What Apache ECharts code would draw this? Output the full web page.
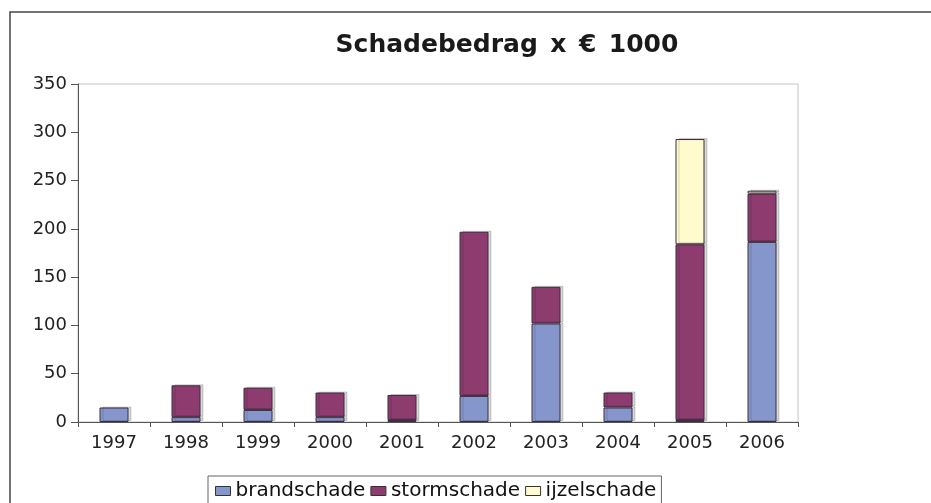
<!DOCTYPE html>
<html>
<head>
<meta charset="utf-8">
<script src="https://cdn.jsdelivr.net/npm/echarts@6/dist/echarts.min.js"></script>
<style>
html,body{margin:0;padding:0;background:#fff;}
#chart{width:931px;height:503px;}
</style>
</head>
<body>
<div id="chart"></div>
<script>
const years = ['1997','1998','1999','2000','2001','2002','2003','2004','2005','2006'];
const brandschade = [15, 5, 12.5, 5, 2, 27, 102, 15, 2, 186.5];
const stormschade = [0, 33, 23, 25.5, 26, 170, 38, 15.5, 182, 50];
const ijzelschade = [0, 0, 0, 0, 0, 0, 0, 0, 109, 3];
const yTicks = [0, 50, 100, 150, 200, 250, 300, 350];

const chart = echarts.init(document.getElementById('chart'));
const font = '"DejaVu Sans", Verdana, sans-serif';
function barStyle(color){
  return {
    color: color,
    borderColor: '#3c2c3c',
    borderWidth: 1,
    shadowColor: 'rgba(0,0,0,0.16)',
    shadowOffsetX: 3,
    shadowOffsetY: -1,
    shadowBlur: 0
  };
}
const nz = arr => arr.map(v => v === 0 ? '-' : v);
chart.setOption({
  animation: false,
  backgroundColor: '#fff',
  graphic: [{
    type: 'rect',
    shape: {x: 10, y: 12, width: 1000, height: 600},
    style: {fill: 'none', stroke: '#444', lineWidth: 1.5},
    z: -1
  }],
  title: {
    text: 'Schadebedrag\u2002x\u2002\u20ac\u20021000',
    left: 502, top: 28, textAlign: 'center',
    textStyle: {fontFamily: font, fontSize: 25, fontWeight: 'bold', color: '#1a1a1a'}
  },
  grid: {left: 78, right: 133, top: 84, bottom: 81, show: true, borderColor: '#c4c4c4', borderWidth: 1},
  legend: {
    top: 476, left: 208,
    icon: 'rect',
    itemWidth: 15, itemHeight: 9, itemGap: 5,
    padding: [3, 5, 20, 7],
    borderColor: '#666', borderWidth: 1,
    textStyle: {fontFamily: font, fontSize: 20, color: '#111', lineHeight: 24},
    data: [
      {name: 'brandschade', itemStyle: {borderColor: '#333', borderWidth: 1}},
      {name: 'stormschade', itemStyle: {borderColor: '#333', borderWidth: 1}},
      {name: 'ijzelschade', itemStyle: {borderColor: '#333', borderWidth: 1}}
    ]
  },
  xAxis: {
    type: 'category', data: years,
    axisLine: {lineStyle: {color: '#555'}},
    axisTick: {show: true, alignWithLabel: false, length: 5, lineStyle: {color: '#555'}},
    axisLabel: {fontFamily: font, fontSize: 18, color: '#222', margin: 12}
  },
  yAxis: {
    type: 'value', min: 0, max: 350, interval: 50,
    axisLine: {show: true, lineStyle: {color: '#555'}},
    axisTick: {show: true, length: 7, lineStyle: {color: '#555'}},
    splitLine: {show: false},
    axisLabel: {fontFamily: font, fontSize: 18, color: '#222', margin: 11,
      formatter: v => yTicks.includes(v) ? String(v) : ''}
  },
  series: [
    {name: 'brandschade', type: 'bar', stack: 's', data: nz(brandschade), barWidth: 29, itemStyle: barStyle('#8496CB')},
    {name: 'stormschade', type: 'bar', stack: 's', data: nz(stormschade), barWidth: 29, itemStyle: barStyle('#8E3C6F')},
    {name: 'ijzelschade', type: 'bar', stack: 's', data: nz(ijzelschade), barWidth: 29, itemStyle: barStyle('#FFFBCC')}
  ]
});
</script>
</body>
</html>
